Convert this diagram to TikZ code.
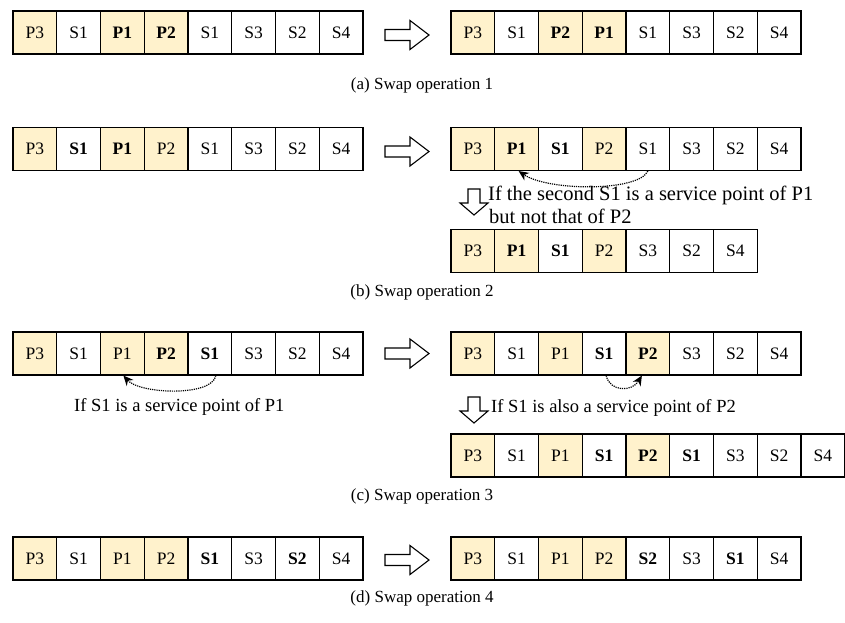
\documentclass[tikz,border=0pt]{standalone}
\usepackage{fontspec}
\setmainfont{Liberation Serif}
\usetikzlibrary{arrows.meta}
\definecolor{pc}{RGB}{255,242,204}
\tikzset{
  cellbox/.style={draw=black, line width=1.1pt, minimum width=43.75pt, minimum height=43pt, inner sep=0pt, font=\fontsize{17.5}{20}\selectfont},
  rg/.style={},
  bd/.style={font=\fontsize{17.5}{20}\selectfont\bfseries},
  captext/.style={font=\fontsize{17}{20}\selectfont, inner sep=0pt},
  notetext/.style={font=\fontsize{18.5}{22}\selectfont, inner sep=0pt, anchor=base west},
  bignote/.style={font=\fontsize{20.5}{24}\selectfont, inner sep=0pt, anchor=base west},
  dotarrow/.style={densely dotted, line width=1.2pt, -{Stealth[length=10pt,width=9pt]}},
  hollow/.style={draw=black, line width=1.1pt, fill=white, line join=miter}
}
\newcommand{\cellrow}[4]{%
  \foreach \t/\f/\w [count=\i] in {#4} {
    \node[cellbox, fill=\f, \w] (#1-\i) at ({#2+(\i-0.5)*43.75}, #3) {\t};
  }%
}
% horizontal hollow arrow, center y
\newcommand{\harrow}[1]{%
  \draw[hollow] (385,#1-5.5) -- (410,#1-5.5) -- (410,#1-14.5) -- (429,#1) -- (410,#1+14.5) -- (410,#1+5.5) -- (385,#1+5.5) -- cycle;
}
% vertical hollow arrow: center x, top y
\newcommand{\varrow}[2]{%
  \draw[hollow] (#1-6,#2) -- (#1+6,#2) -- (#1+6,#2+14) -- (#1+14,#2+14) -- (#1,#2+26) -- (#1-14,#2+14) -- (#1-6,#2+14) -- cycle;
}
\begin{document}
\begin{tikzpicture}[x=1pt, y=-1pt]
\useasboundingbox (0,0) rectangle (845,622);

% ---------- (a)
\cellrow{a1}{13}{32.5}{P3/pc/rg, S1/white/rg, P1/pc/bd, P2/pc/bd, S1/white/rg, S3/white/rg, S2/white/rg, S4/white/rg}
\harrow{35}
\cellrow{a2}{451}{32.5}{P3/pc/rg, S1/white/rg, P2/pc/bd, P1/pc/bd, S1/white/rg, S3/white/rg, S2/white/rg, S4/white/rg}
\node[captext] (capa) at (422,85) {(a) Swap operation 1};

% ---------- (b)
\cellrow{b1}{13}{149}{P3/pc/rg, S1/white/bd, P1/pc/bd, P2/pc/rg, S1/white/rg, S3/white/rg, S2/white/rg, S4/white/rg}
\harrow{151.5}
\cellrow{b2}{451}{149}{P3/pc/rg, P1/pc/bd, S1/white/bd, P2/pc/rg, S1/white/rg, S3/white/rg, S2/white/rg, S4/white/rg}
\draw[dotarrow] (b2-5.south) .. controls (638,192) and (548,191) .. ([xshift=2pt]b2-2.south);
\varrow{474}{189}
\node[bignote] (nb1) at (488,200.5) {If the second S1 is a service point of P1};
\node[bignote] (nb2) at (489,223) {but not that of P2};
\cellrow{b3}{451}{251}{P3/pc/rg, P1/pc/bd, S1/white/bd, P2/pc/rg, S3/white/rg, S2/white/rg, S4/white/rg}
\node[captext] (capb) at (422,292) {(b) Swap operation 2};

% ---------- (c)
\cellrow{c1}{13}{353.5}{P3/pc/rg, S1/white/rg, P1/pc/rg, P2/pc/bd, S1/white/bd, S3/white/rg, S2/white/rg, S4/white/rg}
\draw[dotarrow] ([xshift=6pt]c1-5.south) .. controls (212,397) and (140,394) .. ([xshift=1pt]c1-3.south);
\node[notetext] (nc1) at (74,411) {If S1 is a service point of P1};
\harrow{353.5}
\cellrow{c2}{451}{353.5}{P3/pc/rg, S1/white/rg, P1/pc/rg, S1/white/bd, P2/pc/bd, S3/white/rg, S2/white/rg, S4/white/rg}
\draw[dotarrow] ([xshift=2pt]c2-4.south) .. controls (610,392) and (632,392) .. ([xshift=-6pt]c2-5.south);
\varrow{474}{397}
\node[notetext] (nc2) at (491,412) {If S1 is also a service point of P2};
\cellrow{c3}{451}{455.5}{P3/pc/rg, S1/white/rg, P1/pc/rg, S1/white/bd, P2/pc/bd, S1/white/bd, S3/white/rg, S2/white/rg, S4/white/rg}
\node[captext] (capc) at (422,496) {(c) Swap operation 3};

% ---------- (d)
\cellrow{d1}{13}{558.5}{P3/pc/rg, S1/white/rg, P1/pc/rg, P2/pc/rg, S1/white/bd, S3/white/rg, S2/white/bd, S4/white/rg}
\harrow{560}
\cellrow{d2}{451}{558.5}{P3/pc/rg, S1/white/rg, P1/pc/rg, P2/pc/rg, S2/white/bd, S3/white/rg, S1/white/bd, S4/white/rg}
\node[captext] (capd) at (422,598) {(d) Swap operation 4};
\end{tikzpicture}
\end{document}
